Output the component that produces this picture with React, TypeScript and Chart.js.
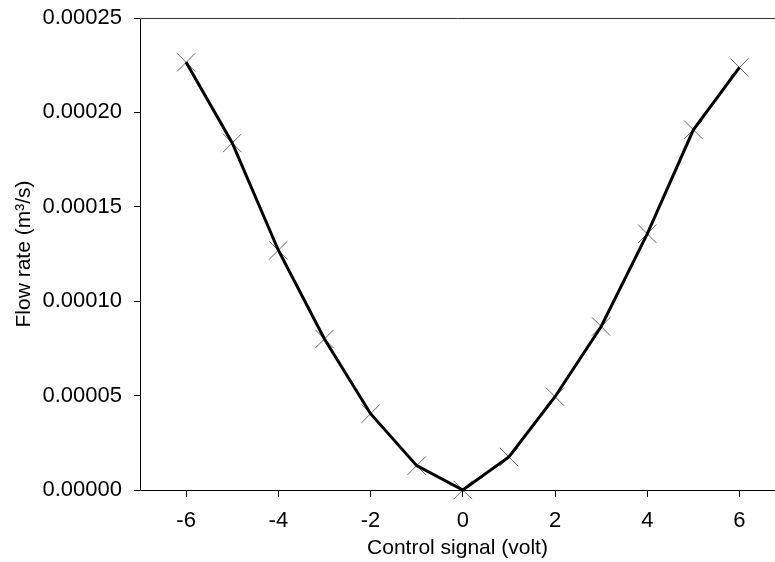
import React, { useEffect, useRef } from "react";
import { Chart, registerables } from "chart.js";

Chart.register(...registerables);

const controlSignal: number[] = [-6, -5, -4, -3, -2, -1, 0, 1, 2, 3, 4, 5, 6];
const flowRate: number[] = [
  0.0002265, 0.0001838, 0.000127, 0.00008, 0.0000404, 0.0000129, 0,
  0.0000175, 0.0000494, 0.0000866, 0.0001357, 0.0001908, 0.0002238,
];
const xTicks: number[] = [-6, -4, -2, 0, 2, 4, 6];
const yTicks: number[] = [0, 0.00005, 0.0001, 0.00015, 0.0002, 0.00025];

const FONT = "'Liberation Sans', Arial, sans-serif";

const topLine = {
  id: "topLine",
  afterDraw(chart: any) {
    const { ctx, chartArea } = chart;
    ctx.save();
    ctx.strokeStyle = "#333";
    ctx.lineWidth = 1;
    ctx.beginPath();
    ctx.moveTo(chartArea.left, Math.round(chartArea.top) + 0.5);
    ctx.lineTo(chartArea.right, Math.round(chartArea.top) + 0.5);
    ctx.stroke();
    ctx.restore();
  },
};

export default function App() {
  const ref = useRef<HTMLCanvasElement | null>(null);

  useEffect(() => {
    if (!ref.current) return;
    const pts = controlSignal.map((x, i) => ({ x, y: flowRate[i] }));
    const chart = new Chart(ref.current, {
      type: "line",
      data: {
        datasets: [
          {
            data: pts,
            showLine: false,
            pointStyle: "crossRot",
            pointRadius: 13,
            pointBorderColor: "#666",
            pointBorderWidth: 1,
            pointBackgroundColor: "transparent",
            clip: false,
            order: 2,
          },
          {
            data: pts,
            borderColor: "#000",
            borderWidth: 3,
            tension: 0,
            pointRadius: 0,
            fill: false,
            clip: false,
            order: 1,
          },
        ],
      },
      options: {
        responsive: false,
        animation: false,
        devicePixelRatio: 1,
        layout: { autoPadding: false, padding: { top: 18, right: 0, left: 0, bottom: 0 } },
        plugins: {
          legend: { display: false },
          tooltip: { enabled: false },
        },
        scales: {
          x: {
            type: "linear",
            min: -7,
            max: 6.77,
            afterBuildTicks: (s: any) => {
              s.ticks = xTicks.map((v) => ({ value: v }));
            },
            afterFit: (s: any) => {
              s.height = 72;
              s.paddingLeft = 0;
              s.paddingRight = 0;
            },
            ticks: {
              color: "#000",
              font: { family: FONT, size: 22 },
              padding: 11,
              maxRotation: 0,
              callback: (v: any) => String(v),
            },
            grid: {
              drawOnChartArea: false,
              drawTicks: true,
              tickLength: 7,
              color: "#000",
            },
            border: { display: true, color: "#000", width: 1 },
            title: {
              display: true,
              text: "Control signal (volt)",
              color: "#000",
              font: { family: FONT, size: 21 },
              padding: { top: 0, bottom: 1 },
            },
          },
          y: {
            type: "linear",
            min: 0,
            max: 0.00025,
            afterBuildTicks: (s: any) => {
              s.ticks = yTicks.map((v) => ({ value: v }));
            },
            afterFit: (s: any) => {
              s.width = 140;
              s.paddingTop = 0;
              s.paddingBottom = 0;
            },
            ticks: {
              color: "#000",
              font: { family: FONT, size: 22 },
              padding: 12,
              callback: (v: any) => Number(v).toFixed(5),
            },
            grid: {
              drawOnChartArea: false,
              drawTicks: true,
              tickLength: 6,
              color: "#000",
            },
            border: { display: true, color: "#000", width: 1 },
            title: {
              display: true,
              text: "Flow rate (m³/s)",
              color: "#000",
              font: { family: FONT, size: 21 },
              padding: { top: 12, bottom: 0 },
            },
          },
        },
      },
      plugins: [topLine],
    });
    return () => chart.destroy();
  }, []);

  return (
    <div style={{ position: "fixed", left: 0, top: 0, width: 775, height: 562, background: "#fff" }}>
      <canvas ref={ref} width={775} height={562} />
    </div>
  );
}
